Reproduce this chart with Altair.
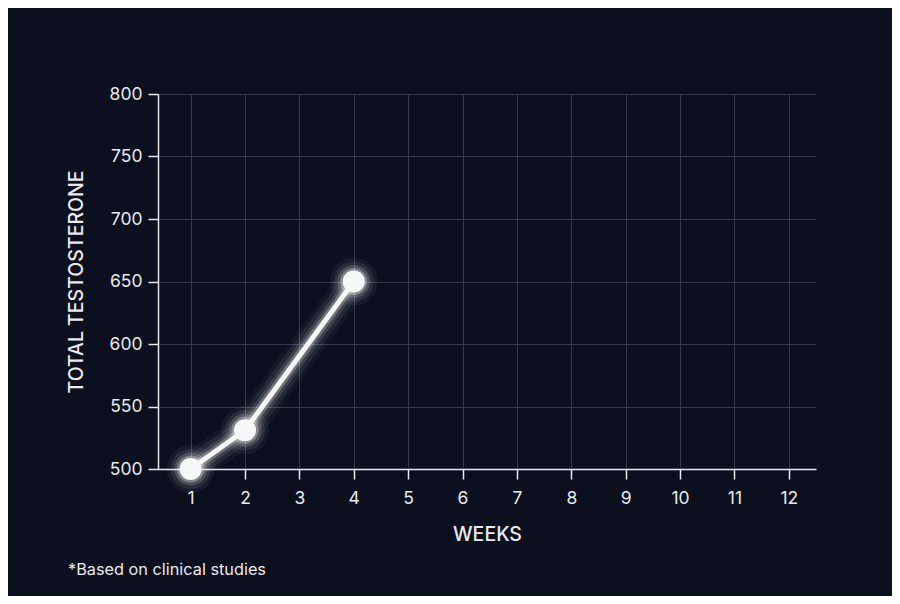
import altair as alt
import pandas as pd

weeks = [1, 2, 4]
testosterone = [500, 531, 650]
x_ticks = list(range(1, 13))
y_ticks = [500, 550, 600, 650, 700, 750, 800]
footnote = ["*Based on clinical studies"]

df = pd.DataFrame({"week": weeks, "value": testosterone})

BG = "#0b0f1e"
FG = "#e9e9ee"
GRID = "#363a4d"
FONT = "Inter"

x_enc = alt.X(
    "week:Q",
    scale=alt.Scale(domain=[0.4, 12.5], nice=False, zero=False),
    axis=alt.Axis(
        values=x_ticks, title="WEEKS", grid=True, gridColor=GRID, gridWidth=1,
        domainColor=FG, domainWidth=1.5, tickColor=FG, tickWidth=1.5, tickSize=10,
        labelColor=FG, labelFontSize=17.5, labelFont=FONT, labelPadding=10,
        titleColor=FG, titleFontSize=19.5, titleFont=FONT, titleFontWeight=500,
        titlePadding=19,
    ),
)
y_enc = alt.Y(
    "value:Q",
    scale=alt.Scale(domain=[500, 800], nice=False, zero=False),
    axis=alt.Axis(
        values=y_ticks, title="TOTAL TESTOSTERONE", grid=True, gridColor=GRID, gridWidth=1,
        domainColor=FG, domainWidth=1.5, tickColor=FG, tickWidth=1.5, tickSize=10,
        labelColor=FG, labelFontSize=17.5, labelFont=FONT, labelPadding=6,
        titleColor=FG, titleFontSize=19.5, titleFont=FONT, titleFontWeight=500,
        titlePadding=23,
    ),
)

base = alt.Chart(df).encode(x=x_enc, y=y_enc)

glow_lines = [
    base.mark_line(color="white", strokeWidth=w, opacity=o, strokeCap="round", strokeJoin="round")
    for w, o in [(32, 0.04), (24, 0.07), (16, 0.12), (10, 0.25)]
]
core_line = base.mark_line(color="#f7f7fa", strokeWidth=5, strokeCap="round", strokeJoin="round")

glow_points = [
    base.mark_circle(color="white", size=s, opacity=o)
    for s, o in [(2300, 0.05), (1600, 0.08), (1100, 0.14), (740, 0.28)]
]
core_points = base.mark_circle(color="#f7f7fa", size=490, opacity=1)

note = alt.Chart(pd.DataFrame({"t": footnote})).mark_text(
    align="left", baseline="middle", color=FG, fontSize=16.3, font=FONT
).encode(text="t:N", x=alt.value(-90), y=alt.value(476))

chart = alt.layer(*glow_lines, core_line, *glow_points, core_points, note).properties(
    width=658,
    height=375,
    background=BG,
    padding={"left": 150, "top": 86, "right": 76, "bottom": 127},
    autosize=alt.AutoSizeParams(type="none"),
).configure_view(stroke=None)

chart.save("out.html", embed_options={"renderer": "svg", "actions": False})
